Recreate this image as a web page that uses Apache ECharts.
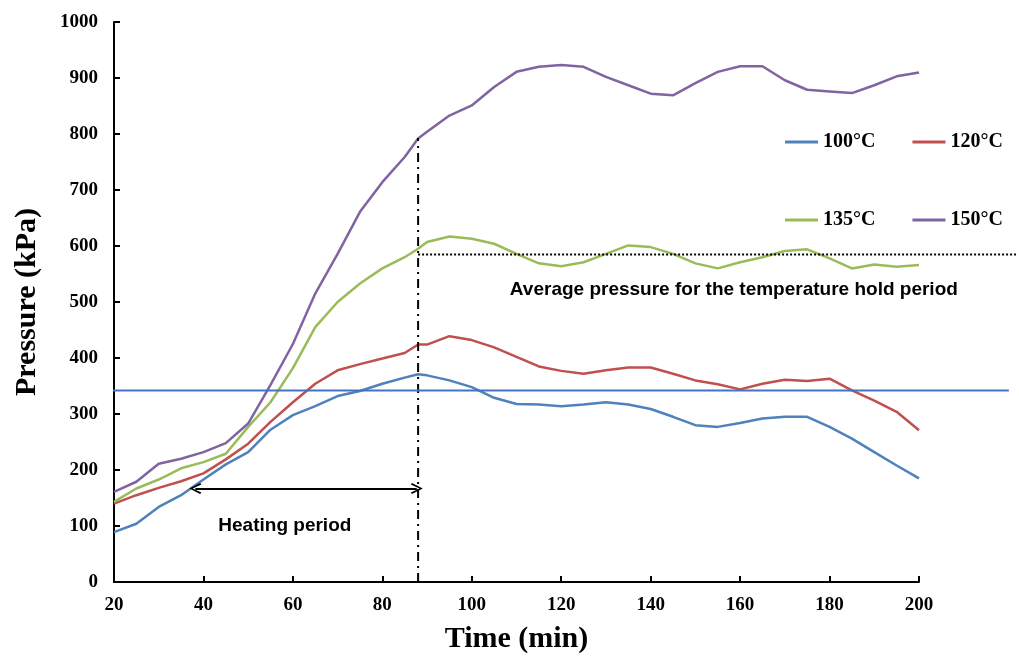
<!DOCTYPE html>
<html>
<head>
<meta charset="utf-8">
<script src="https://cdn.jsdelivr.net/npm/echarts@6/dist/echarts.min.js"></script>
<style>html,body{margin:0;padding:0;background:#fff;}#c{width:1019px;height:659px;}</style>
</head>
<body>
<div id="c"></div>
<script>
// ---- data ----
const times = [20,25,30,35,40,45,50,55,60,65,70,75,80,85,88,90,95,100,105,110,115,120,125,130,135,140,145,150,155,160,165,170,175,180,185,190,195,200];
const p100 = [89,104,134,155,183,210,232,272,298,314,332,341,354,365,371,369,360,348,329,318,317,314,317,321,317,309,295,280,277,284,292,295,295,277,256,232,208,185];
const p120 = [140,155,168,180,194,219,247,286,321,354,378,389,399,409,424,424,439,432,419,402,385,377,372,378,383,383,372,360,353,344,354,361,359,363,342,324,304,271];
const p135 = [143,167,183,203,214,229,277,321,382,455,500,533,560,580,595,607,617,613,604,586,569,564,571,586,601,598,586,569,560,571,580,591,594,578,560,567,563,566];
const p150 = [161,179,211,220,232,248,283,352,425,515,586,661,714,759,792,804,833,851,884,911,920,923,920,902,887,872,869,891,911,921,921,896,879,876,873,887,903,910];
const seriesNames = ['100°C','120°C','135°C','150°C'];
const xTicks = {min:20, max:200, interval:20};
const yTicks = {min:0, max:1000, interval:100};
// annotation values
const heatEnd = 88;          // end of heating period (min)
const heatEndP = 793;        // top of dash-dot marker (kPa)
const arrowStart = 38.2, arrowEnd = 87.7, arrowP = 167;
const avgHold = 585;         // average pressure, 135°C hold period
const refLineP = 342;        // blue reference line
const annLabels = [
  {name:'Heating period', value:[58.2,101]},
  {name:'Average pressure for the temperature hold period', value:[158.6,521]}
];

const colors = ['#4F81BD','#C0504D','#9BBB59','#8064A2'];
const serif = 'Liberation Serif';
const sans = 'Liberation Sans';
const pair = arr => times.map((t,i)=>[t,arr[i]]);

const chart = echarts.init(document.getElementById('c'), null, {renderer:'canvas'});
const axisLineStyle = {color:'#000', width:2};
const legendBase = {orient:'horizontal', icon:'rect', itemWidth:33, itemHeight:3, itemGap:37,
  textStyle:{fontFamily:serif, fontWeight:'bold', fontSize:20, color:'#000'}};
const arrowHead = 'path://M5,0 L10,8.5 L8.6,9.5 L5,2.6 L1.4,9.5 L0,8.5 Z';
chart.setOption({
  animation:false,
  backgroundColor:'#fff',
  grid:[
    {left:114, right:100, top:22, bottom:77},
    {left:114, right:3, top:22, bottom:77}
  ],
  xAxis:[
    {type:'value', gridIndex:0, min:xTicks.min, max:xTicks.max, interval:xTicks.interval,
     name:'Time (min)', nameLocation:'middle', nameGap:42,
     nameTextStyle:{fontFamily:serif, fontWeight:'bold', fontSize:30, color:'#000'},
     axisLine:{show:true, lineStyle:axisLineStyle},
     axisTick:{show:true, inside:true, length:6, lineStyle:{color:'#000', width:2}},
     axisLabel:{fontFamily:serif, fontWeight:'bold', fontSize:19, color:'#000', margin:14},
     splitLine:{show:false}},
    {type:'value', gridIndex:1, min:20, max:221.7, show:false}
  ],
  yAxis:[
    {type:'value', gridIndex:0, min:yTicks.min, max:yTicks.max, interval:yTicks.interval,
     name:'Pressure (kPa)', nameLocation:'middle', nameGap:72, nameRotate:90,
     nameTextStyle:{fontFamily:serif, fontWeight:'bold', fontSize:30, color:'#000'},
     axisLine:{show:true, lineStyle:axisLineStyle},
     axisTick:{show:true, inside:true, length:6, lineStyle:{color:'#000', width:2}},
     axisLabel:{fontFamily:serif, fontWeight:'bold', fontSize:19, color:'#000', margin:16,
       formatter:v=>String(v)},
     splitLine:{show:false}},
    {type:'value', gridIndex:1, min:0, max:1000, show:false}
  ],
  legend:[
    Object.assign({data:[seriesNames[0],seriesNames[1]], left:780, top:127}, legendBase),
    Object.assign({data:[seriesNames[2],seriesNames[3]], left:780, top:205}, legendBase)
  ],
  series:[
    ...[p100,p120,p135,p150].map((arr,i)=>({
      name:seriesNames[i], type:'line', xAxisIndex:0, yAxisIndex:0,
      data:pair(arr), symbol:'none', smooth:false,
      lineStyle:{color:colors[i], width:2.5}, itemStyle:{color:colors[i]}, z:3
    })),
    {name:'refline', type:'line', xAxisIndex:1, yAxisIndex:1, clip:false,
     data:[[19.5,refLineP],[220.1,refLineP]], symbol:'none',
     lineStyle:{color:'#4472C4', width:2}, z:5, silent:true},
    {name:'avg', type:'line', xAxisIndex:1, yAxisIndex:1, clip:false,
     data:[[heatEnd,avgHold],[221.7,avgHold]], symbol:'none',
     lineStyle:{color:'#000', width:2, type:[2,2]}, z:4, silent:true},
    {name:'heatEnd', type:'line', xAxisIndex:0, yAxisIndex:0,
     data:[[heatEnd,0],[heatEnd,heatEndP]], symbol:'none',
     lineStyle:{color:'#000', width:2, type:[9,5,2,5]}, z:4, silent:true},
    {name:'arrow', type:'line', xAxisIndex:0, yAxisIndex:0,
     data:[], symbol:'none', silent:true,
     markLine:{silent:true, symbol:[arrowHead, arrowHead],
       symbolSize:[11,12], label:{show:false},
       lineStyle:{color:'#000', width:2, type:'solid'},
       data:[[{coord:[arrowStart,arrowP]},{coord:[arrowEnd,arrowP]}]]}},
    {name:'labels', type:'scatter', xAxisIndex:0, yAxisIndex:0, clip:false,
     data:annLabels, symbolSize:1, itemStyle:{color:'rgba(0,0,0,0)'}, silent:true, z:6,
     label:{show:true, position:'inside', formatter:'{b}', fontFamily:sans, fontWeight:'bold',
       fontSize:19, color:'#000', opacity:1, textBorderWidth:0, textShadowBlur:0}}
  ]
});
</script>
</body>
</html>
